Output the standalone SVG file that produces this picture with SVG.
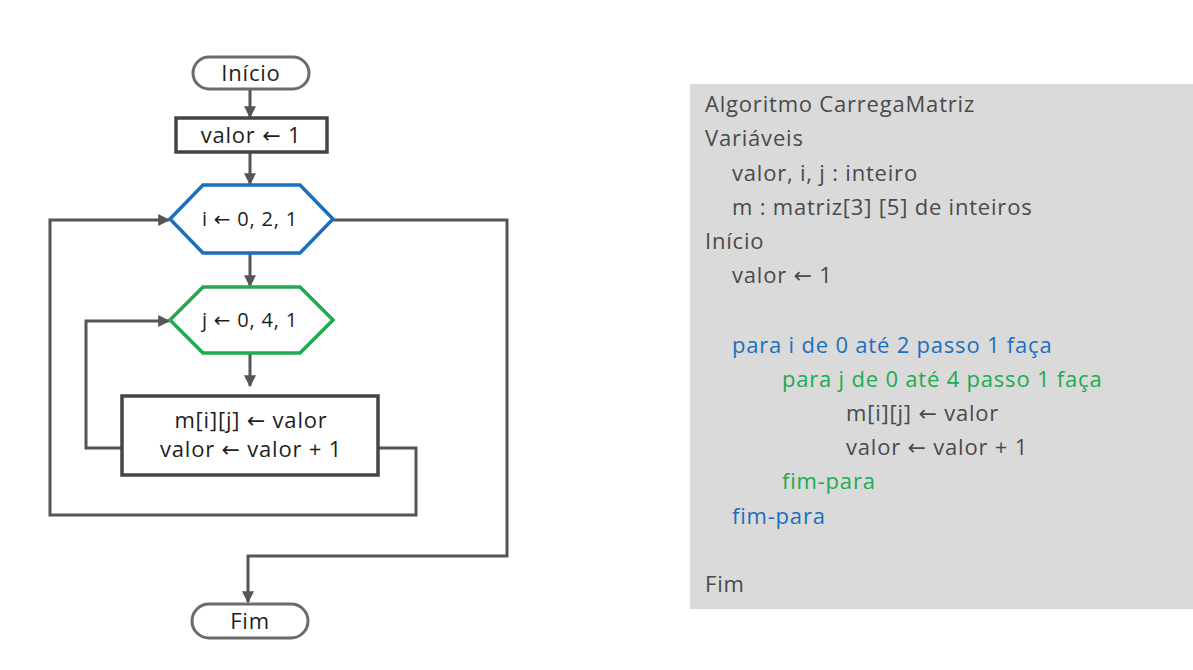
<svg xmlns="http://www.w3.org/2000/svg" width="1193" height="670" viewBox="0 0 1193 670">
<style>
.bg{fill:#ffffff}
.term{fill:#ffffff;stroke:#6b6b6b;stroke-width:3}
.proc{fill:#ffffff;stroke:#454545;stroke-width:3.5}
.hexi{fill:#ffffff;stroke:#1b6fbf;stroke-width:3.5}
.hexj{fill:#ffffff;stroke:#21aa4f;stroke-width:3.5}
.conn{fill:none;stroke:#555555;stroke-width:3}
.t{font-family:"Open Sans","DejaVu Sans",sans-serif;fill:#1e1e1e;text-anchor:middle;letter-spacing:0.8px}
.c{font-family:"Open Sans","DejaVu Sans",sans-serif;font-size:22px;fill:#4a4a4a;letter-spacing:0.8px}
.blue{fill:#1b6fbf}
.green{fill:#21aa4f}
</style>
<defs>
<marker id="ah" viewBox="0 0 10 10" refX="9" refY="5" markerWidth="4" markerHeight="4" orient="auto" markerUnits="strokeWidth">
<path d="M0,0 L10,5 L0,10 z" fill="#555555"/>
</marker>
</defs>
<rect class="bg" x="0" y="0" width="1193" height="670"/>
<g id="connectors">
<line class="conn" x1="250" y1="89" x2="250" y2="117" marker-end="url(#ah)"/>
<line class="conn" x1="250" y1="152" x2="250" y2="184" marker-end="url(#ah)"/>
<line class="conn" x1="250" y1="253" x2="250" y2="286" marker-end="url(#ah)"/>
<line class="conn" x1="250" y1="353" x2="250" y2="386" marker-end="url(#ah)"/>
<polyline class="conn" points="122,448 86,448 86,321 169,321" marker-end="url(#ah)"/>
<polyline class="conn" points="378,448 416,448 416,515 50,515 50,220 169,220" marker-end="url(#ah)"/>
<polyline class="conn" points="333,220 507,220 507,556 248,556 248,602" marker-end="url(#ah)"/>
</g>
<g id="inicio">
<rect class="term" x="193" y="57" width="116" height="32" rx="16"/>
<text class="t" x="251" y="81" font-size="22">Início</text>
</g>
<g id="valor1">
<rect class="proc" x="176" y="118" width="151" height="34"/>
<text class="t" x="251" y="143" font-size="22">valor ← 1</text>
</g>
<g id="loop-i">
<polygon class="hexi" points="170,219 203,185 300,185 333,219 300,253 203,253"/>
<text class="t" x="250" y="226" font-size="20">i ← 0, 2, 1</text>
</g>
<g id="loop-j">
<polygon class="hexj" points="170,320 203,287 300,287 333,320 300,353 203,353"/>
<text class="t" x="250" y="327" font-size="20">j ← 0, 4, 1</text>
</g>
<g id="body">
<rect class="proc" x="122" y="396" width="256" height="79"/>
<text class="t" x="251" y="428" font-size="22">m[i][j] ← valor</text>
<text class="t" x="251" y="457" font-size="22">valor ← valor + 1</text>
</g>
<g id="fim">
<rect class="term" x="192" y="604" width="116" height="34" rx="17"/>
<text class="t" x="250" y="629" font-size="22">Fim</text>
</g>
<g id="code">
<rect x="690" y="84" width="503" height="525" fill="#dadada"/>
<text class="c" x="705" y="112">Algoritmo CarregaMatriz</text>
<text class="c" x="705" y="146">Variáveis</text>
<text class="c" x="732" y="181">valor, i, j : inteiro</text>
<text class="c" x="732" y="215">m : matriz[3] [5] de inteiros</text>
<text class="c" x="705" y="249">Início</text>
<text class="c" x="732" y="283">valor ← 1</text>
<text class="c blue" x="732" y="353">para i de 0 até 2 passo 1 faça</text>
<text class="c green" x="782" y="387">para j de 0 até 4 passo 1 faça</text>
<text class="c" x="846" y="421">m[i][j] ← valor</text>
<text class="c" x="846" y="455">valor ← valor + 1</text>
<text class="c green" x="782" y="489">fim-para</text>
<text class="c blue" x="732" y="524">fim-para</text>
<text class="c" x="705" y="592">Fim</text>
</g>
</svg>
